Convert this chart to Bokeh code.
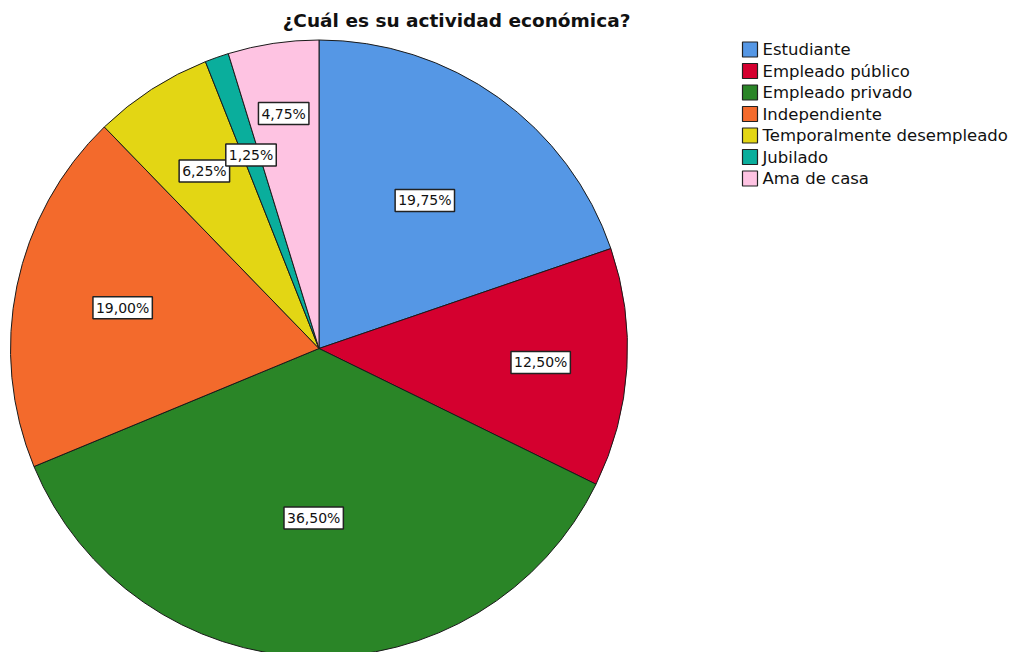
import math
from bokeh.plotting import figure
from bokeh.models import Range1d, ColumnDataSource
from bokeh.core.properties import value
from bokeh.embed import file_html
from bokeh.resources import INLINE

# ---- data ----
categories = ["Estudiante", "Empleado público", "Empleado privado", "Independiente",
              "Temporalmente desempleado", "Jubilado", "Ama de casa"]
percentages = [19.75, 12.50, 36.50, 19.00, 6.25, 1.25, 4.75]
colors = ["#5597e5", "#d4002f", "#2a8527", "#f36a2c", "#e3d614", "#0aae9c", "#fec3e2"]
title_text = "¿Cuál es su actividad económica?"

# label distance from centre as a fraction of the radius (style)
label_radius = [0.59, 0.72, 0.55, 0.65, 0.685, 0.665, 0.77]

W, H = 1010, 652
p = figure(width=W, height=H, x_range=Range1d(0, W), y_range=Range1d(0, H),
           output_backend="svg", toolbar_location=None, min_border=0)
p.axis.visible = False
p.grid.visible = False
p.outline_line_color = None

cx, cy, R = 318.5, H - 348.0, 308.5

total = sum(percentages)
starts, ends, lx, ly, labels = [], [], [], [], []
cum = 0.0
for v, f in zip(percentages, label_radius):
    a0 = math.pi / 2 - 2 * math.pi * cum / total
    cum += v
    a1 = math.pi / 2 - 2 * math.pi * cum / total
    starts.append(a0)
    ends.append(a1)
    mid = (a0 + a1) / 2
    lx.append(cx + f * R * math.cos(mid))
    ly.append(cy + f * R * math.sin(mid))
    labels.append(f"{v:.2f}%".replace(".", ","))

src = ColumnDataSource(dict(start=starts, end=ends, color=colors, lx=lx, ly=ly, label=labels))
p.wedge(x=cx, y=cy, radius=R, start_angle="start", end_angle="end", direction="clock",
        fill_color="color", line_color="#1a1a1a", line_width=1, source=src)

p.text(x="lx", y="ly", text="label", source=src, text_align="center", text_baseline="middle",
       text_font=value("DejaVu Sans"), text_font_size="14px", text_color="#111111",
       background_fill_color="white", border_line_color="#222222", border_line_width=1.5,
       padding=3)

# title
p.text(x=[456], y=[H - 20], text=[title_text], text_align="center", text_baseline="middle",
       text_font=value("DejaVu Sans"), text_font_size="18.5px", text_font_style="bold",
       text_color="#111111")

# legend
leg_y = [H - (49 + 21.5 * i) for i in range(len(categories))]
p.rect(x=[749.5] * len(categories), y=leg_y, width=15, height=15, fill_color=colors,
       line_color="#222222", line_width=1.2)
p.text(x=[762] * len(categories), y=leg_y, text=categories, text_align="left",
       text_baseline="middle", text_font=value("DejaVu Sans"), text_font_size="16.5px",
       text_color="#111111")

open("out.html", "w").write(file_html(p, INLINE))
